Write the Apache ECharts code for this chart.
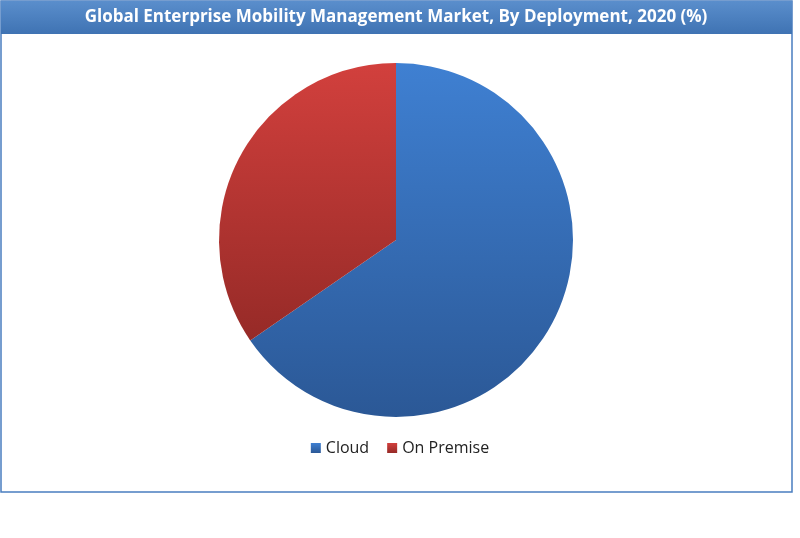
<!DOCTYPE html>
<html><head><meta charset="utf-8">
<script src="https://cdn.jsdelivr.net/npm/echarts@6/dist/echarts.min.js"></script>
<style>html,body{margin:0;padding:0;background:#fff}#c{width:800px;height:538px}</style>
</head><body><div id="c"></div>
<script>
const title = 'Global Enterprise Mobility Management Market, By Deployment, 2020 (%)';
const categories = ['Cloud', 'On Premise'];
const values = [65.4, 34.6];
const colorsTop = ['#3f80d2', '#d2403d'];
const colorsBottom = ['#2b5896', '#962a27'];

const chart = echarts.init(document.getElementById('c'));
chart.setOption({
  animation: false,
  graphic: [
    {type: 'rect', shape: {x: 1, y: 1, width: 791, height: 491}, style: {fill: 'none', stroke: '#4a7ec0', lineWidth: 1.5}, z: 0},
    {type: 'rect', shape: {x: 1, y: 1, width: 791, height: 33}, style: {fill: new echarts.graphic.LinearGradient(0,0,0,1,[{offset:0,color:'#5a8ecc'},{offset:1,color:'#3f73b3'}])}, z: 1},
    {type: 'text', x: 396, y: 17, style: {text: title, fill: '#fff', font: 'bold 17px "Open Sans", sans-serif', align: 'center', verticalAlign: 'middle'}, z: 2}
  ],
  legend: {
    bottom: 77, left: 'center', itemWidth: 10, itemHeight: 10, itemGap: 18, icon: 'rect',
    textStyle: {fontSize: 16, color: '#222', fontFamily: '"Open Sans", sans-serif'},
    data: categories
  },
  series: [{
    type: 'pie', center: [396, 240], radius: 177, startAngle: 90, clockwise: true,
    label: {show: false}, labelLine: {show: false},
    data: categories.map((n, i) => ({
      name: n, value: values[i],
      itemStyle: {color: new echarts.graphic.LinearGradient(0,0,0,1,[{offset:0,color:colorsTop[i]},{offset:1,color:colorsBottom[i]}])}
    }))
  }]
});
</script></body></html>
